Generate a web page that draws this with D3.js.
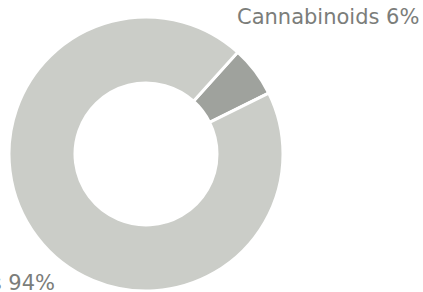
<!DOCTYPE html>
<html>
<head>
<meta charset="utf-8">
<script src="https://cdn.jsdelivr.net/npm/d3@7"></script>
<style>
  html, body { margin: 0; padding: 0; background: #fff; }
  svg { display: block; }
  .label { font-family: "DejaVu Sans", Verdana, sans-serif; font-size: 21px; fill: #7b7d7a; }
</style>
</head>
<body>
<div id="chart"></div>
<script>
var categories = ["Cannabinoids", "Other substances"];
var shares = [6, 94];
var sliceColors = ["#9fa29d", "#cbcdc8"];

var width = 423,
    height = 292;

var svg = d3.select("#chart")
    .append("svg")
    .attr("width", width)
    .attr("height", height);

var cx = 146, cy = 154,
    outer = 137, inner = 71;

var startDeg = 42;
var pie = d3.pie()
    .sort(null)
    .startAngle(startDeg * Math.PI / 180)
    .endAngle(startDeg * Math.PI / 180 + 2 * Math.PI);

var arc = d3.arc()
    .innerRadius(inner)
    .outerRadius(outer);

var data = categories.map(function(c, i) { return {name: c, value: shares[i]}; });

var g = svg.append("g")
    .attr("transform", "translate(" + cx + "," + cy + ")");

g.selectAll("path")
    .data(pie.value(function(d) { return d.value; })(data))
    .enter().append("path")
    .attr("d", arc)
    .attr("fill", function(d, i) { return sliceColors[i]; })
    .attr("stroke", "#fff")
    .attr("stroke-width", 3);

// labels
svg.append("text")
    .attr("class", "label")
    .attr("x", 237)
    .attr("y", 24)
    .text(categories[0] + " " + shares[0] + "%");

svg.append("text")
    .attr("class", "label")
    .attr("x", 55)
    .attr("y", 290)
    .attr("text-anchor", "end")
    .text(categories[1] + " " + shares[1] + "%");
</script>
</body>
</html>
